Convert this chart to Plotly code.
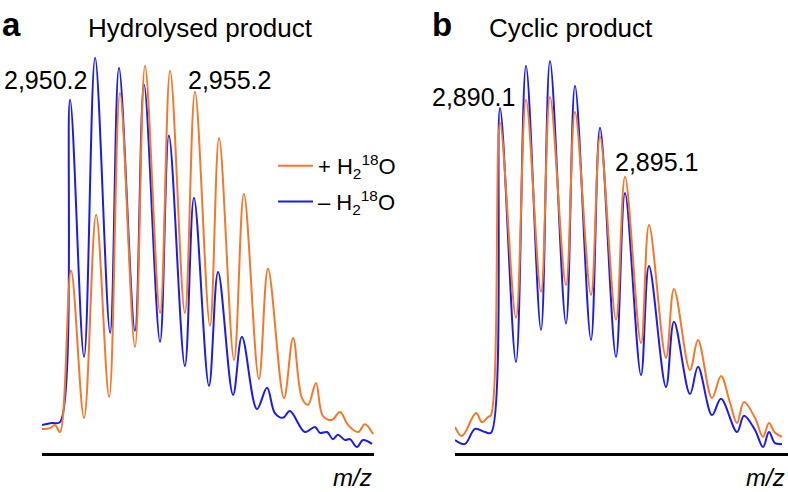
import plotly.graph_objects as go

# ---------------- data (m/z, relative intensity) ----------------
# Panel a: hydrolysed product
a_plus_mz = [2949.06, 2949.39, 2949.59, 2949.79, 2950.24, 2950.77, 2951.26, 2951.79,
             2952.23, 2952.84, 2953.25, 2953.86, 2954.27, 2954.87, 2955.28, 2955.89,
             2956.26, 2956.87, 2957.27, 2957.88, 2958.25, 2958.90, 2959.27, 2959.63,
             2959.88, 2960.20, 2960.48, 2960.85, 2961.18, 2961.50, 2961.91, 2962.19,
             2962.52]
a_plus_int = [6.1, 6.3, 7.1, 5.3, 46.1, 8.9, 60.3, 14.2,
              91.1, 26.8, 98.0, 35.4, 96.7, 35.4, 91.4, 32.2,
              79.7, 23.5, 65.6, 18.7, 46.6, 13.9, 29.1, 13.9,
              12.2, 17.7, 9.4, 8.4, 10.4, 7.1, 5.3, 7.3,
              4.8]

a_minus_mz = [2949.06, 2949.47, 2949.79, 2950.20, 2950.77, 2951.22, 2951.83, 2952.19,
              2952.84, 2953.21, 2953.86, 2954.22, 2954.87, 2955.24, 2955.85, 2956.22,
              2956.83, 2957.19, 2957.80, 2958.21, 2958.53, 2958.86, 2959.14, 2959.75,
              2960.16, 2960.36, 2960.65, 2960.89, 2961.09, 2961.38, 2961.58, 2961.87,
              2962.11, 2962.48]
a_minus_int = [7.1, 7.6, 7.8, 89.4, 24.3, 100.0, 30.4, 97.5,
               30.9, 93.2, 28.1, 80.3, 22.0, 64.6, 17.0, 45.8,
               14.7, 29.4, 11.1, 16.5, 10.1, 8.9, 10.6, 5.3,
               6.6, 5.1, 5.3, 3.5, 4.6, 3.3, 3.5, 1.5,
               3.3, 2.3]

# Panel b: cyclic product
b_plus_mz = [2888.30, 2888.58, 2889.14, 2889.38, 2889.62, 2889.74, 2890.10, 2890.74,
             2891.14, 2891.74, 2892.10, 2892.74, 2893.10, 2893.74, 2894.10, 2894.74,
             2895.10, 2895.74, 2896.06, 2896.74, 2897.06, 2897.70, 2898.02, 2898.58,
             2898.94, 2899.30, 2899.58, 2899.86, 2900.30, 2900.62, 2900.86, 2901.10,
             2901.38]
b_plus_int = [6.6, 4.3, 10.1, 7.8, 9.1, 9.6, 83.5, 34.2,
              89.4, 40.8, 90.1, 42.5, 86.3, 40.0, 80.0, 33.7,
              69.9, 27.8, 57.7, 24.1, 41.5, 21.0, 28.6, 13.9,
              19.5, 12.7, 7.6, 12.9, 8.9, 4.1, 7.6, 5.1,
              4.1]

b_minus_mz = [2888.30, 2888.70, 2889.10, 2889.50, 2889.74, 2890.10, 2890.74, 2891.14,
              2891.74, 2892.10, 2892.74, 2893.10, 2893.74, 2894.10, 2894.74, 2895.10,
              2895.74, 2896.06, 2896.74, 2897.06, 2897.70, 2898.02, 2898.58, 2898.94,
              2899.58, 2899.86, 2900.30, 2900.62, 2900.86, 2901.10, 2901.38]
b_minus_int = [3.3, 2.3, 6.1, 5.3, 5.1, 87.3, 23.0, 98.0,
               31.1, 99.2, 32.7, 92.9, 28.6, 82.3, 24.3, 65.8,
               19.7, 47.3, 16.7, 33.2, 14.9, 21.8, 9.6, 13.7,
               5.3, 9.4, 5.8, 1.5, 5.3, 2.5, 2.3]

panel_letters = ["a", "b"]
panel_titles = ["Hydrolysed product", "Cyclic product"]
peak_labels_a = [("2,950.2", 2950.2), ("2,955.2", 2955.2)]
peak_labels_b = [("2,890.1", 2890.1), ("2,895.1", 2895.1)]
series_names = ["+ H<sub>2</sub><sup>18</sup>O", "\u2013 H<sub>2</sub><sup>18</sup>O"]
x_label = "<i>m/z</i>"

ORANGE = "#F2792B"
BLUE = "#1C1CE8"
FONT = "Liberation Sans, Arial, Helvetica, sans-serif"

fig = go.Figure()

# blue first (beneath), orange on top
fig.add_trace(go.Scatter(x=a_minus_mz, y=a_minus_int, mode="lines", name=series_names[1],
                         line=dict(color=BLUE, width=2, shape="spline", smoothing=1.0),
                         legendrank=2, legendgroup="m", xaxis="x", yaxis="y"))
fig.add_trace(go.Scatter(x=a_plus_mz, y=a_plus_int, mode="lines", name=series_names[0],
                         line=dict(color=ORANGE, width=2, shape="spline", smoothing=1.0),
                         legendrank=1, legendgroup="p", xaxis="x", yaxis="y"))
fig.add_trace(go.Scatter(x=b_minus_mz, y=b_minus_int, mode="lines", showlegend=False,
                         line=dict(color=BLUE, width=2, shape="spline", smoothing=1.0),
                         xaxis="x2", yaxis="y2"))
fig.add_trace(go.Scatter(x=b_plus_mz, y=b_plus_int, mode="lines", showlegend=False,
                         line=dict(color=ORANGE, width=2, shape="spline", smoothing=1.0),
                         xaxis="x2", yaxis="y2"))

W, H = 788, 492
ax_common = dict(showgrid=False, zeroline=False, showticklabels=False, ticks="",
                 showline=True, linecolor="black", linewidth=3)
yax_common = dict(showgrid=False, zeroline=False, showticklabels=False, ticks="",
                  showline=False, range=[0, 105], domain=[39 / H, 454 / H])


def px(xp):
    return xp / W


def py(yp):
    return 1 - yp / H


fig.update_layout(
    width=W, height=H,
    margin=dict(l=0, r=0, t=0, b=0, pad=0),
    paper_bgcolor="white", plot_bgcolor="white",
    font=dict(family=FONT, color="black", size=22),
    xaxis=dict(domain=[42 / W, 374 / W], range=[2949.06, 2962.56], **ax_common),
    yaxis=dict(anchor="x", **yax_common),
    xaxis2=dict(domain=[455 / W, 1.0], range=[2888.30, 2901.62], **ax_common),
    yaxis2=dict(anchor="x2", **yax_common),
    showlegend=True,
    hovermode=False,
    legend=dict(x=px(273), y=py(145), xanchor="left", yanchor="top",
                bgcolor="rgba(0,0,0,0)", font=dict(size=22, family=FONT),
                tracegroupgap=4, itemwidth=35),
)

ann = []
# panel letters
ann.append(dict(text="<b>%s</b>" % panel_letters[0], x=px(11), y=py(24), xref="paper", yref="paper",
                showarrow=False, font=dict(size=33), xanchor="center", yanchor="middle"))
ann.append(dict(text="<b>%s</b>" % panel_letters[1], x=px(442), y=py(24), xref="paper", yref="paper",
                showarrow=False, font=dict(size=33), xanchor="center", yanchor="middle"))
# titles
ann.append(dict(text=panel_titles[0], x=px(200), y=py(28), xref="paper", yref="paper",
                showarrow=False, font=dict(size=26), xanchor="center", yanchor="middle"))
ann.append(dict(text=panel_titles[1], x=px(571), y=py(28), xref="paper", yref="paper",
                showarrow=False, font=dict(size=26), xanchor="center", yanchor="middle"))
# peak labels (anchored to their peaks)
ann.append(dict(text=peak_labels_a[0][0], x=peak_labels_a[0][1], y=94.4, xref="x", yref="y",
                showarrow=False, font=dict(size=25), xanchor="right", yanchor="middle", xshift=19))
ann.append(dict(text=peak_labels_a[1][0], x=peak_labels_a[1][1], y=94.4, xref="x", yref="y",
                showarrow=False, font=dict(size=25), xanchor="left", yanchor="middle", xshift=-7))
ann.append(dict(text=peak_labels_b[0][0], x=peak_labels_b[0][1], y=90.1, xref="x2", yref="y2",
                showarrow=False, font=dict(size=25), xanchor="right", yanchor="middle", xshift=17))
ann.append(dict(text=peak_labels_b[1][0], x=peak_labels_b[1][1], y=73.6, xref="x2", yref="y2",
                showarrow=False, font=dict(size=25), xanchor="left", yanchor="middle", xshift=-12))
# axis labels
ann.append(dict(text=x_label, x=px(374), y=py(477), xref="paper", yref="paper",
                showarrow=False, font=dict(size=24), xanchor="right", yanchor="middle"))
ann.append(dict(text=x_label, x=px(787), y=py(477), xref="paper", yref="paper",
                showarrow=False, font=dict(size=24), xanchor="right", yanchor="middle"))
fig.update_layout(annotations=ann)

fig.write_html("out.html", config={"displayModeBar": False},
               post_script="document.body.style.margin='0px';")
